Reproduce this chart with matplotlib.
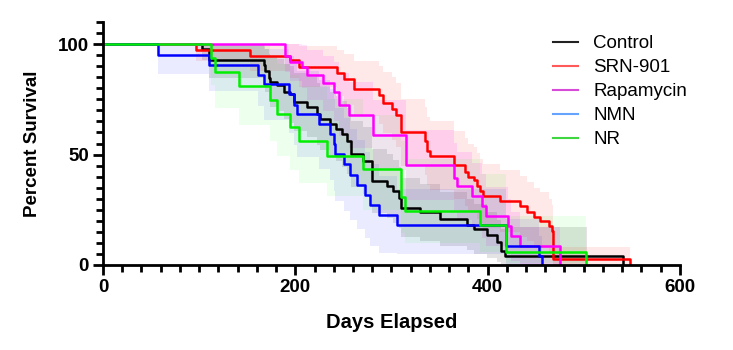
import numpy as np
import matplotlib.pyplot as plt
from matplotlib.lines import Line2D
from matplotlib.ticker import MultipleLocator

plt.rcParams['font.family'] = ['Liberation Sans', 'DejaVu Sans']

# Kaplan-Meier steps: day of event, survival after it,
# and the shaded band (low / high) for that step
ctrl_t = [0, 103.1, 110, 167.2, 168.9, 172.3, 174.1, 181.1, 187.9, 194.9, 198.3, 212.3,
          222.7, 226.1, 236.5, 242.7, 248.6, 253.8, 258, 270.5, 279.8, 295.4, 302,
          307.5, 310.3, 330, 350.8, 378.6, 385.4, 399.4, 410.1, 413.7, 418.4, 503, 540.7]
ctrl_s = [100, 97.6, 92.7, 90.4, 88, 84.5, 83, 81.4, 78.4, 77.2, 73.8, 71.6,
          68.5, 66.2, 63.9, 61.6, 59.4, 56.3, 50.2, 47.2, 38, 35.8, 33.3,
          30.5, 25.9, 23.9, 20.9, 18.3, 16.3, 13.7, 10.6, 6.1, 4.1, 4.1, 0]
ctrl_lo = [100, 93, 84.8, 81.5, 78.2, 73.6, 71.6, 69.6, 66, 64.5, 60.5, 58,
           54.5, 51.9, 49.4, 46.9, 44.5, 41.3, 35.1, 32.1, 23.3, 21.3, 19,
           16.6, 12.6, 11, 8.6, 6.6, 5.1, 3.3, 1.3, 0, 0, 4.1, 0]
ctrl_hi = [100, 100, 100, 99.3, 97.8, 95.4, 94.4, 93.2, 90.8, 89.9, 87.1, 85.2,
           82.5, 80.5, 78.4, 76.3, 74.3, 71.3, 65.3, 62.3, 52.7, 50.3, 47.6,
           44.4, 39.2, 36.8, 33.2, 30, 27.5, 24.1, 20.4, 16.1, 17, 4.1, 0]

srn_t = [0, 97.2, 153.3, 194.9, 203.5, 243.5, 250.3, 261.4, 287.4, 291.6, 300.6, 305.1,
         310.3, 335.2, 337, 339.9, 364.7, 376.8, 379.4, 385.4, 389.3, 392.4, 395,
         413.2, 434, 441.3, 448.5, 454.8, 463.4, 467, 468.3, 548.3]
srn_s = [100, 97.4, 94.7, 92.8, 89.8, 87.1, 84, 79.9, 76.9, 73.5, 70.8, 67.7,
         60.1, 56.3, 51.7, 49.5, 45.2, 42.2, 39.7, 38.4, 35.8, 33.5, 31.2,
         28.8, 26.5, 24.2, 21.9, 20.1, 17.8, 15.2, 2.5, 0]
srn_lo = [100, 92.5, 87.8, 84.8, 80.4, 76.7, 72.6, 67.5, 63.8, 59.8, 56.7, 53.2,
          44.9, 40.9, 36.2, 34, 29.8, 26.9, 24.5, 23.3, 20.9, 18.9, 16.8,
          14.8, 12.8, 10.9, 9.1, 7.7, 5.9, 4.1, 0, 0]
srn_hi = [100, 100, 100, 100, 99.2, 97.5, 95.4, 92.3, 90, 87.2, 84.9, 82.2,
          75.3, 71.7, 67.2, 65, 60.6, 57.5, 54.9, 53.5, 50.7, 48.1, 45.6,
          43, 40.5, 37.5, 35, 33, 30, 27, 8, 0]

rapa_t = [0, 189, 194.9, 206.9, 212.3, 229.2, 240.6, 245.8, 255.5, 281.2, 315.5,
          364.7, 368.2, 383.8, 394.2, 398.6, 421, 424.6, 434, 475.6]
rapa_s = [100, 94.6, 92, 89.8, 86, 82.2, 78.4, 72.6, 68, 58.9, 45.2,
          39.6, 35.8, 31.3, 26.7, 22.1, 17.5, 13, 8.4, 0]
rapa_lo = [100, 87.3, 83.3, 80, 74.8, 69.9, 65.1, 58.2, 53, 43, 29.2,
           23.8, 20.4, 16.4, 12.4, 8.7, 5.1, 2, 0, 0]
rapa_hi = [100, 100, 100, 99.6, 97.2, 94.5, 91.7, 87, 83, 74.8, 61.2,
           55.4, 51.2, 46.2, 41, 35.5, 29.9, 24, 17.4, 0]

nmn_t = [0, 57.2, 110, 161.6, 167.2, 193.1, 198.3, 202.2, 224.3, 236.5, 239.9, 241.7,
         251, 257.3, 264.2, 272.9, 278.1, 286.7, 305.8, 419.4, 453, 456.5]
nmn_s = [100, 95.3, 90.7, 86.1, 81.8, 77.6, 72.6, 68.3, 63.7, 59.2, 54.7, 50.2,
         45.7, 40.9, 36.2, 31.7, 27.2, 22.4, 17.9, 8.6, 4, 0]
nmn_lo = [100, 86.7, 78.9, 72, 65.7, 59.8, 54.1, 48.7, 43.5, 38.6, 33.7, 29.1,
          24.6, 20.4, 16.3, 12.3, 8.7, 5.2, 5, 0, 0, 0]
nmn_hi = [100, 100, 100, 100, 97.9, 94.8, 91.3, 87.7, 83.7, 79.6, 75.3, 70.9,
          66.4, 61.4, 56.5, 51.3, 45.9, 40.2, 34.3, 21, 13, 0]

nr_t = [0, 112.3, 116.9, 141.4, 173.4, 181.1, 194.9, 203.5, 233.1, 270.8, 310, 314.5,
        392.4, 418.9, 502.6]
nr_s = [100, 93.6, 87.2, 81.2, 74.6, 68.5, 62.4, 56, 49.5, 43.4, 30.9, 24.3,
        18.3, 5.9, 0]
nr_lo = [100, 81.5, 71, 63.5, 56, 49.5, 43, 37, 31, 25, 14.5, 10, 6, 1, 0]
nr_hi = [100, 100, 100, 99, 95, 91, 86, 81, 75, 68, 56, 48, 41, 22, 0]

labels = ['Control', 'SRN-901', 'Rapamycin', 'NMN', 'NR']
line_colors = ['#000000', '#ff0000', '#ff00ff', '#0000ff', '#00ee00']
band_colors = ['#808080', '#ff0000', '#ff00ff', '#0000ff', '#00ff00']
band_alpha = [0.22, 0.09, 0.11, 0.08, 0.07]
legend_colors = ['#222222', '#ff5a5a', '#d84ad8', '#66a3ff', '#3fd63f']

data = [(ctrl_t, ctrl_s, ctrl_lo, ctrl_hi),
        (srn_t, srn_s, srn_lo, srn_hi),
        (rapa_t, rapa_s, rapa_lo, rapa_hi),
        (nmn_t, nmn_s, nmn_lo, nmn_hi),
        (nr_t, nr_s, nr_lo, nr_hi)]

fig = plt.figure(figsize=(7.33, 3.5), dpi=100)
ax = fig.add_axes([0.1405, 0.243, 0.787, 0.694])

for (t, s, lo, hi), c, a in zip(data, band_colors, band_alpha):
    ax.fill_between(t, lo, hi, step='post', color=c, alpha=a, lw=0)
for (t, s, lo, hi), c in zip(data, line_colors):
    ax.step(t, s, where='post', color=c, lw=1.8)

ax.set_xlim(0, 600)
ax.set_ylim(0, 110)
ax.xaxis.set_major_locator(MultipleLocator(200))
ax.xaxis.set_minor_locator(MultipleLocator(20))
ax.yaxis.set_major_locator(MultipleLocator(50))
ax.yaxis.set_minor_locator(MultipleLocator(5))
for side in ['top', 'right']:
    ax.spines[side].set_visible(False)
for side in ['left', 'bottom']:
    ax.spines[side].set_linewidth(2)
ax.tick_params(which='major', length=7, width=2, labelsize=13.5, pad=3)
ax.tick_params(which='minor', length=5, width=2)
for lab in ax.get_xticklabels() + ax.get_yticklabels():
    lab.set_fontweight('bold')

ax.set_xlabel('Days Elapsed', fontsize=14.5, fontweight='bold', labelpad=12)
ax.set_ylabel('Percent Survival', fontsize=13.5, fontweight='bold', labelpad=12)

handles = [Line2D([], [], color=c, lw=1.5) for c in legend_colors]
ax.legend(handles, labels, loc='upper left', bbox_to_anchor=(0.764, 0.985),
          frameon=False, fontsize=13.5, handlelength=1.35, handletextpad=0.8,
          labelspacing=0.37, borderpad=0)

fig.savefig('out.png', dpi=100)
